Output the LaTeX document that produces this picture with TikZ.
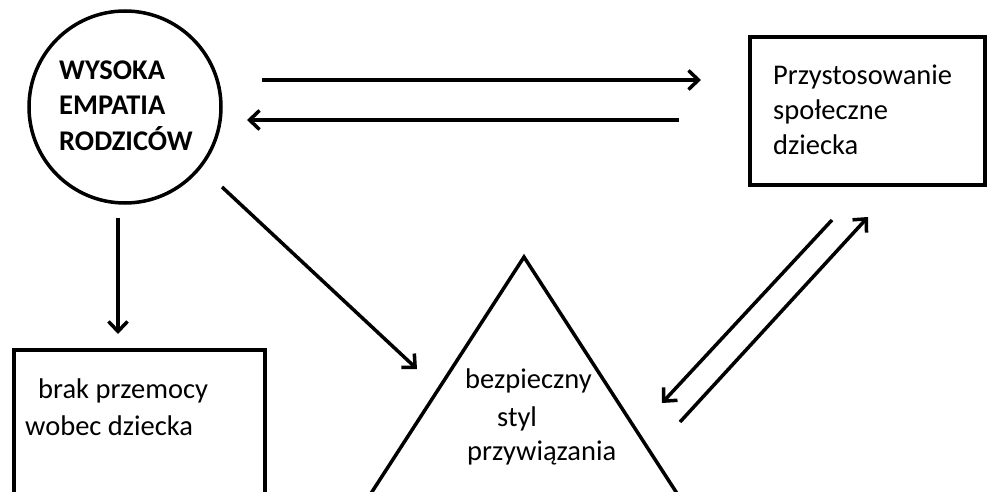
\documentclass[tikz,border=0pt]{standalone}
\usepackage{fontspec}
\setmainfont{Carlito}
\usetikzlibrary{arrows.meta}
\tikzset{
  shape line/.style={draw=black, line width=3.5pt},
  conn/.style={line width=3.5pt, -{Straight Barb[length=10pt,width=19pt]}},
  txt/.style={anchor=base west, inner sep=0pt, font=\fontsize{28.5pt}{35pt}\selectfont},
  btxt/.style={txt, font=\fontsize{28.5pt}{35pt}\selectfont\bfseries},
}
\begin{document}
\begin{tikzpicture}[x=1pt,y=-1pt]
\useasboundingbox (0,0) rectangle (989,492);
\clip (0,0) rectangle (989,492);
\fill[white] (0,0) rectangle (989,492);
% circle
\node[shape line, circle, minimum size=192pt, inner sep=0pt] (emp) at (125,107) {};
\node[btxt] (e1) at (59,80) {WYSOKA};
\node[btxt] (e2) at (59,115) {EMPATIA};
\node[btxt] (e3) at (59,151) {RODZICÓW};
% top right box
\node[shape line, rectangle, minimum width=235pt, minimum height=148pt, inner sep=0pt] (prz) at (867.5,111) {};
\node[txt] (p1) at (773,85) {Przystosowanie};
\node[txt] (p2) at (773,120) {społeczne};
\node[txt] (p3) at (773,155) {dziecka};
% bottom left box
\node[shape line, rectangle, minimum width=251pt, minimum height=200pt, inner sep=0pt, anchor=north west] (brak) at (12,348) {};
\node[txt] (b1) at (38,398) {brak przemocy};
\node[txt] (b2) at (25,435) {wobec dziecka};
% triangle
\coordinate (apex) at (524,257);
\coordinate (tl) at (357,515);
\coordinate (tr) at (691,515);
\draw[shape line, line join=miter] (tl) -- (apex) -- (tr);
\node[txt] (t1) at (465,388) {bezpieczny};
\node[txt] (t2) at (497,426) {styl};
\node[txt] (t3) at (467,460) {przywiązania};
% arrow endpoints
\coordinate (a1s) at (262,80);  \coordinate (a1e) at (701,80);
\coordinate (a2s) at (679,120); \coordinate (a2e) at (247,120);
\coordinate (a3s) at (118,218); \coordinate (a3e) at (118,334);
\coordinate (a4s) at (222,187); \coordinate (a4e) at (417,369);
\coordinate (a5s) at (832,220); \coordinate (a5e) at (662,403);
\coordinate (a6s) at (680,422); \coordinate (a6e) at (868,217);
\draw[conn] (a1s) -- (a1e);
\draw[conn] (a2s) -- (a2e);
\draw[conn] (a3s) -- (a3e);
\draw[conn] (a4s) -- (a4e);
\draw[conn] (a5s) -- (a5e);
\draw[conn] (a6s) -- (a6e);
\end{tikzpicture}
\end{document}
